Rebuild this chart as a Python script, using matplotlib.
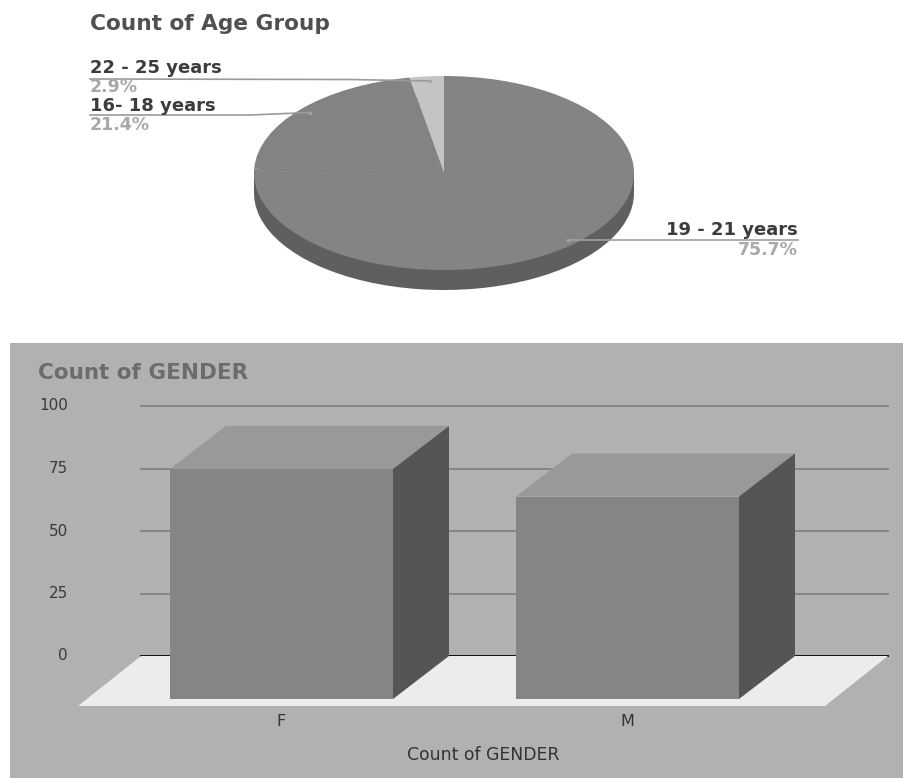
"""Age-group pie and gender bar panel, both drawn with a fake 3D extrusion."""
import matplotlib
matplotlib.use("Agg")
import matplotlib.pyplot as plt
from matplotlib.patches import Polygon, Rectangle

plt.rcParams["font.family"] = ["DejaVu Sans"]

W, H = 904, 778

age_labels = ["19 - 21 years", "16- 18 years", "22 - 25 years"]
age_share = [75.7, 21.4, 2.9]
gender_labels = ["F", "M"]
gender_counts = [92, 81]
y_ticks = [0, 25, 50, 75, 100]


def axes_px(x0, y0, x1, y1):
    # axes box given in pixels from the top-left corner
    return fig.add_axes([x0 / W, 1 - y1 / H, (x1 - x0) / W, (y1 - y0) / H])


fig = plt.figure(figsize=(W / 100, H / 100), dpi=100, facecolor="white")

# ---- background panel behind the bars -----
bg = axes_px(0, 0, W, H)
bg.set_xlim(0, W); bg.set_ylim(H, 0); bg.axis("off")
bg.add_patch(Rectangle((10, 343), W - 10, H - 343, color="#b1b1b1", lw=0))

# ---- pie: dark copy shifted down, joined by a rectangle -----
CX, CY, RX, RY, DEPTH = 444, 173, 190, 97, 20
pie = axes_px(CX - RX, CY - RY, CX + RX, CY + RY + DEPTH)
top_cols = ["#848484", "#838383", "#c4c4c4"]
pie.pie(age_share, colors=["#5f5f5f"] * 3, startangle=90, counterclock=False,
        center=(0, -DEPTH / RY), wedgeprops=dict(lw=0))
pie.add_patch(Rectangle((-1, -DEPTH / RY), 2, DEPTH / RY, color="#5f5f5f", lw=0))
pie.pie(age_share, colors=top_cols, startangle=90, counterclock=False,
        center=(0, 0), wedgeprops=dict(lw=0))
pie.set_aspect("auto")
pie.set_xlim(-1, 1); pie.set_ylim(-1 - DEPTH / RY, 1)
pie.axis("off")
pie.patch.set_alpha(0)
# faint seam between the two dark slices
pie.plot([-0.92, 0], [0.05, 0], color="#8c8c8c", lw=0.6, alpha=0.7)

# text and leaders sit above the pie
txt = axes_px(0, 0, W, H)
txt.set_xlim(0, W); txt.set_ylim(H, 0); txt.axis("off"); txt.patch.set_alpha(0)
txt.text(90, 24, "Count of Age Group", fontsize=15.6, fontweight="bold", color="#505050", va="center")

LEAD = "#a3a3a3"
share_txt = [f"{v}%" for v in age_share]
txt.plot([90, 350, 430], [79, 79.5, 81], color="#9a9a9a", lw=1.2)
txt.plot([90, 250, 310], [115, 115, 112.5], color="#9a9a9a", lw=1.2)
txt.plot([568, 798], [240, 240], color="#a0a0a0", lw=1.2)
txt.scatter([430, 310, 568], [81, 112.5, 240], s=7, color=LEAD, lw=0, zorder=3)

LAB, SHARE = 13, 12.5
txt.text(90, 68, age_labels[2], fontsize=LAB, fontweight="bold", color="#3c3c3c", va="center")
txt.text(90, 87, share_txt[2], fontsize=SHARE, fontweight="bold", color="#a8a8a8", va="center")
txt.text(90, 105.5, age_labels[1], fontsize=LAB, fontweight="bold", color="#3c3c3c", va="center")
txt.text(90, 125, share_txt[1], fontsize=SHARE, fontweight="bold", color="#a8a8a8", va="center")
txt.text(798, 230, age_labels[0], fontsize=LAB, fontweight="bold", color="#3c3c3c", va="center", ha="right")
txt.text(798, 250, share_txt[0], fontsize=SHARE, fontweight="bold", color="#a8a8a8", va="center", ha="right")

# ---- bars: x in category units, y in counts on the back plane -----
PX_X, PX_Y = 346.0, 2.5      # pixels per category / per count
X0, Y0 = 281.5, 656          # pixel position of category 0, count 0
ax = axes_px(10, 343, W, H)
ax.set_xlim((10 - X0) / PX_X, (W - X0) / PX_X)
ax.set_ylim((Y0 - H) / PX_Y, (Y0 - 343) / PX_Y)
ax.axis("off"); ax.patch.set_alpha(0)

BAR_W = 223 / PX_X
DX, DY = 56 / PX_X, 43 / PX_Y   # extrusion offset to the back plane
xl, xr = (141 - X0) / PX_X, (888 - X0) / PX_X

for t in y_ticks:
    ax.plot([xl, xr], [t, t], color="#111111" if t == 0 else "#858585",
            lw=1.4, zorder=1)
    ax.text((68 - X0) / PX_X, t, str(t), fontsize=11, color="#3a3a3a",
            ha="right", va="center")

floor_y = -50 / PX_Y
floor_dx = 63 / PX_X
ax.add_patch(Polygon([(xl, 0), (xr, 0), (xr - floor_dx, floor_y), (xl - floor_dx, floor_y)],
                     closed=True, fc="#ececec", ec="none", zorder=2))

for i, v in enumerate(gender_counts):
    left, right = i - BAR_W / 2, i + BAR_W / 2
    ax.bar(i, v, width=BAR_W, bottom=-DY, color="#858585", lw=0, zorder=4)
    top = v - DY
    ax.add_patch(Polygon([(left, top), (right, top), (right + DX, top + DY), (left + DX, top + DY)],
                         closed=True, fc="#999999", ec="none", zorder=3))
    ax.add_patch(Polygon([(right, -DY), (right + DX, 0), (right + DX, top + DY), (right, top)],
                         closed=True, fc="#555555", ec="none", zorder=3))
    ax.text(i, (Y0 - 721) / PX_Y, gender_labels[i], fontsize=11.5, color="#333333",
            ha="center", va="center")

ax.text((483 - X0) / PX_X, (Y0 - 755) / PX_Y, "Count of GENDER", fontsize=12.4,
        color="#333333", ha="center", va="center")
ax.text((38 - X0) / PX_X, (Y0 - 373) / PX_Y, "Count of GENDER", fontsize=15.5,
        fontweight="bold", color="#6c6c6c", ha="left", va="center")

fig.savefig("out.png", dpi=100)
